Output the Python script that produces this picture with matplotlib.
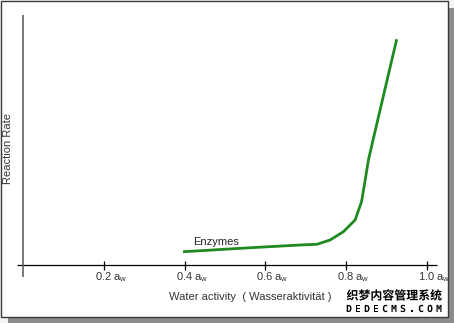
"""Reaction rate of enzymes vs. water activity, redrawn in matplotlib."""

import matplotlib

matplotlib.use("Agg")

import matplotlib.patheffects as pe
import matplotlib.pyplot as plt
from matplotlib.patches import Rectangle

# data (x = water activity, y = relative rate 0..100)
water_activity = [0.396, 0.562, 0.686, 0.728, 0.760, 0.793, 0.822, 0.838, 0.847,
                  0.855, 0.867, 0.925]
reaction_rate = [5.3, 6.9, 8.0, 8.3, 10.0, 13.3, 18.0, 25.3, 34.0, 42.0, 50.4, 90.3]
tick_values = [0.2, 0.4, 0.6, 0.8, 1.0]
tick_labels = ["0.2 a$_\\mathregular{w}$", "0.4 a$_\\mathregular{w}$", "0.6 a$_\\mathregular{w}$",
               "0.8 a$_\\mathregular{w}$", "1.0 a$_\\mathregular{w}$"]

W, H = 454, 323
X0, XS = 23, 404       # pixel of x=0, pixels per unit activity
Y0, YS = 265, 2.5      # pixel of y=0, pixels per rate unit

plt.rcParams["font.family"] = ["Liberation Sans", "DejaVu Sans"]
TEXT = "#333333"
FS = 8


def fx(px):
    return px / W


def fy(py):
    return 1 - py / H


fig = plt.figure(figsize=(W / 100, H / 100), dpi=100)
fig.patch.set_facecolor("#f4f4f4")

# drop shadow and framed panel (behind the axes)
fig.add_artist(Rectangle((fx(8), fy(323)), fx(446), 315 / H, transform=fig.transFigure,
                         facecolor="#8c8c8c", edgecolor="none", zorder=-2))
fig.add_artist(Rectangle((fx(1), fy(316.5)), fx(446.5), 315.5 / H, transform=fig.transFigure,
                         facecolor="white", edgecolor="#3a3a3a", linewidth=1.0, zorder=-1))

ax = fig.add_axes([0, 0, 1, 1])
ax.set_xlim(-X0 / XS, (W - X0) / XS)
ax.set_ylim((Y0 - H) / YS, Y0 / YS)
ax.axis("off")
ax.patch.set_alpha(0)

# axes drawn by hand, as in the original sketch
ax.plot([-6 / XS, 414 / XS], [0, 0], color="black", lw=0.9, solid_capstyle="butt")
ax.plot([0, 0], [-12 / YS, 100], color="#555555", lw=1.1, solid_capstyle="butt")
ax.vlines(tick_values, -5 / YS, 4 / YS, color="black", lw=0.9)

for value, label in zip(tick_values, tick_labels):
    ax.text(value - 9 / XS, -12 / YS, label, ha="left", va="center", fontsize=FS, color=TEXT)

ax.plot(water_activity, reaction_rate, color="#1f8a1f", lw=2.0, solid_capstyle="butt",
        solid_joinstyle="round")

ax.text((193 - X0) / XS, (Y0 - 242) / YS, "Enzymes", ha="left", va="center",
        fontsize=FS, color="#222222")

fig.text(fx(250), fy(297), "Water activity  ( Wasseraktivität )", ha="center", va="center",
         fontsize=FS, color=TEXT)
fig.text(fx(8), fy(148), "Reaction Rate", ha="center", va="center", rotation=90,
         fontsize=FS, color=TEXT)

# site watermark
halo = [pe.withStroke(linewidth=2, foreground="white")]
fig.text(fx(394), fy(296), "织梦内容管理系统", ha="center", va="center", fontsize=8.6,
         fontweight="bold", family=["Noto Sans CJK SC", "DejaVu Sans"], color="black",
         path_effects=halo)
for i, ch in enumerate("DEDECMS.COM"):
    fig.text(fx(349 + i * 9.0), fy(309), ch, ha="center", va="center", fontsize=7,
             fontweight="bold", family="DejaVu Sans Mono", color="black", path_effects=halo)

fig.savefig("out.png", dpi=100)
